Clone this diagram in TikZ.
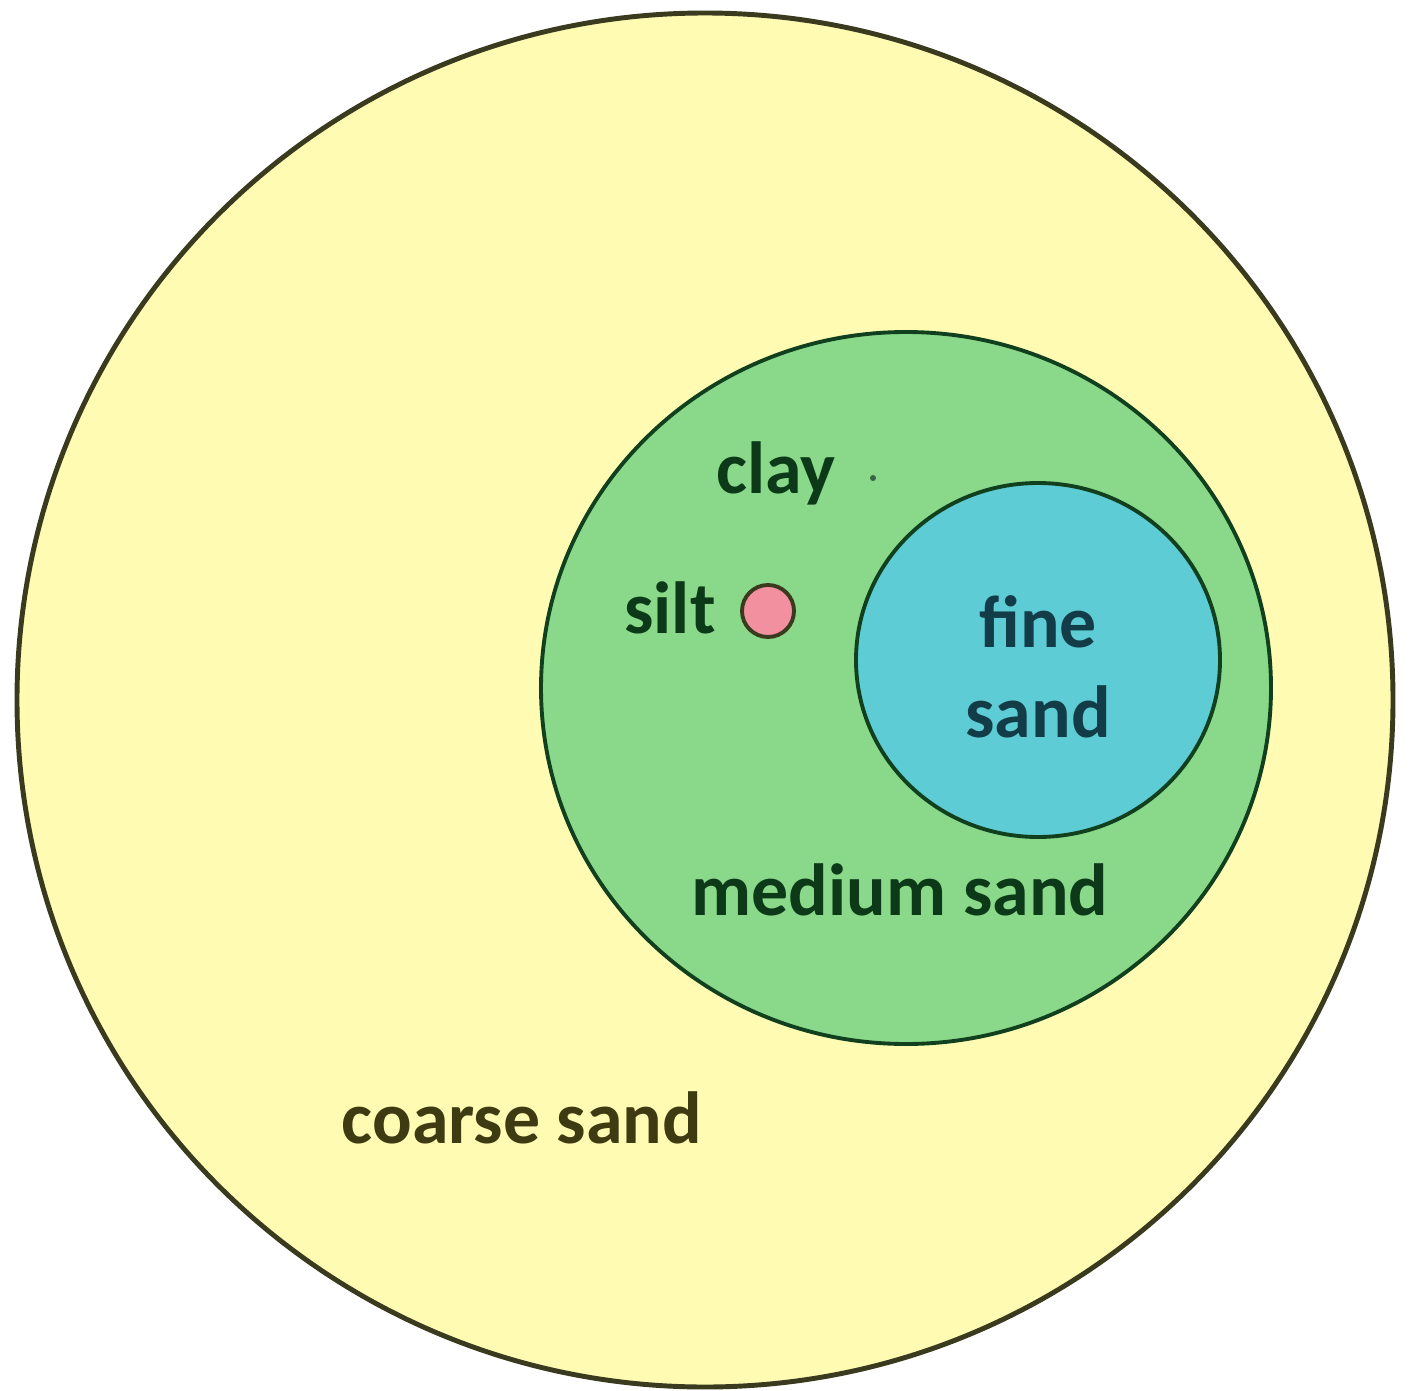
\documentclass[tikz,border=0pt]{standalone}
\usepackage{fontspec}
\setmainfont{Carlito}
\usepackage{xcolor}
\definecolor{soilYellow}{HTML}{FFFBB2}
\definecolor{soilGreen}{HTML}{8AD98A}
\definecolor{soilBlue}{HTML}{5ECCD4}
\definecolor{soilPink}{HTML}{F2909F}
\definecolor{lineOlive}{HTML}{3A3A1E}
\definecolor{lineGreen}{HTML}{10401E}
\definecolor{textGreen}{HTML}{0C3A18}
\definecolor{textTeal}{HTML}{123C48}
\definecolor{textOlive}{HTML}{3E3A12}
\usetikzlibrary{positioning}

\tikzset{
  grain/.style={font=\fontsize{21}{25.6}\selectfont\bfseries, anchor=base, inner sep=0pt, align=center}
}

\begin{document}
\begin{tikzpicture}[x=0.01cm, y=-0.01cm]
  \useasboundingbox[fill=white] (0,0) rectangle (1409,1391);
  % coarse sand
  \draw[fill=soilYellow, draw=lineOlive, line width=1.4pt] (705,700) ellipse [x radius=688, y radius=687];
  % medium sand
  \draw[fill=soilGreen, draw=lineGreen, line width=1.1pt] (906,688) ellipse [x radius=365, y radius=356];
  % fine sand
  \draw[fill=soilBlue, draw=lineGreen, line width=1.1pt] (1038,660) ellipse [x radius=182, y radius=177];
  % silt and clay grains
  \draw[fill=soilPink, draw=lineOlive, line width=1.1pt] (768,611) circle (26);
  \fill[textGreen!80] (873,478) circle (3);
  % labels
  \node[grain, textGreen] (clay) at (776,493) {clay};
  \node[grain, textGreen] (silt) at (670,633) {silt};
  \node[grain, textTeal] (fine) at (1038,647) {fine};
  \node[grain, textTeal] (fineSand) at (1038,737) {sand};
  \node[grain, textGreen] (medium) at (900,915) {medium sand};
  \node[grain, textOlive] (coarse) at (522,1143) {coarse sand};
\end{tikzpicture}
\end{document}
